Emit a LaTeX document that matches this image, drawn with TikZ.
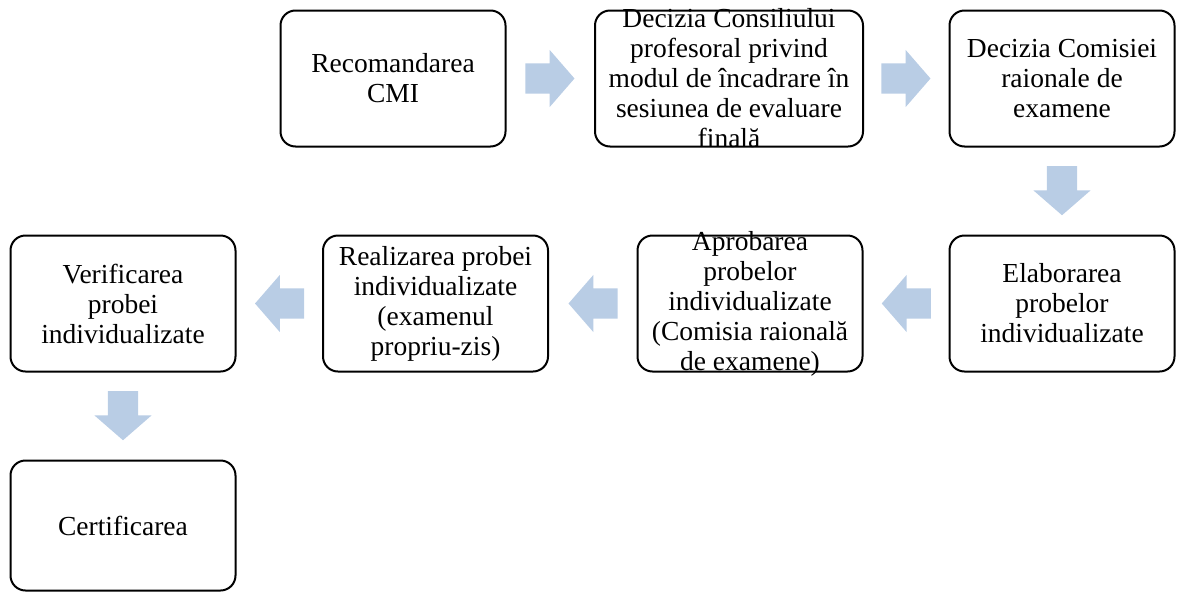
\documentclass[tikz,border=0pt]{standalone}
\usepackage{fontspec}
\setmainfont{Liberation Serif}
\usetikzlibrary{shapes.arrows,calc}
\definecolor{arrblue}{HTML}{B9CDE5}

\begin{document}
\begin{tikzpicture}[x=1pt,y=-1pt,
  box/.style={draw,line width=2pt,rounded corners=15pt,minimum width=225pt,minimum height=136pt,inner sep=0pt},
  txt/.style={align=center,inner sep=0pt,font=\fontsize{27.5}{30}\selectfont},
  blk/.style={single arrow,fill=arrblue,draw=none,inner xsep=0pt,inner ysep=15pt,minimum height=49pt,single arrow head extend=13.5pt,single arrow tip angle=98,anchor=tip}]

  \useasboundingbox (0,0) rectangle (1177,592);

  \node[box] (rec) at (393,78.5) {};
  \node[box,minimum width=268pt] (dec) at (729,78.5) {};
  \node[box] (com) at (1062,78.5) {};
  \node[box] (elab) at (1062,303.5) {};
  \node[box] (apro) at (750,303.5) {};
  \node[box] (real) at (435.5,303.5) {};
  \node[box] (verif) at (123,303.5) {};
  \node[box,minimum height=130pt] (cert) at (123,525.5) {};

  \node[txt] (rec-t) at (rec) {Recomandarea\\CMI};
  \node[txt] (dec-t) at (dec) {Decizia Consiliului\\profesoral privind\\modul de încadrare în\\sesiunea de evaluare\\finală};
  \node[txt] (com-t) at (com) {Decizia Comisiei\\raionale de\\examene};
  \node[txt] (elab-t) at (elab) {Elaborarea\\probelor\\individualizate};
  \node[txt] (apro-t) at (apro) {Aprobarea\\probelor\\individualizate\\(Comisia raională\\de examene)};
  \node[txt] (real-t) at (real) {Realizarea probei\\individualizate\\(examenul\\propriu-zis)};
  \node[txt] (verif-t) at (verif) {Verificarea\\probei\\individualizate};
  \node[txt] (cert-t) at (cert) {Certificarea};

  % block arrows, placed by their tips
  \node[blk] (a1) at ($(rec.east)!.5!(dec.west)+(24.5,0)$) {};
  \node[blk] (a2) at ($(dec.east)!.5!(com.west)+(24.5,0)$) {};
  \node[blk,rotate=-90] (a3) at ($(com.south)!.5!(elab.north)+(0,24.5)$) {};
  \foreach \a/\b in {elab/apro,apro/real,real/verif}
    \node[blk,rotate=180] (\a-\b) at ($(\a.west)!.5!(\b.east)+(-24.5,0)$) {};
  \node[blk,rotate=-90] (a7) at ($(verif.south)!.5!(cert.north)+(0,24.5)$) {};
\end{tikzpicture}
\end{document}
